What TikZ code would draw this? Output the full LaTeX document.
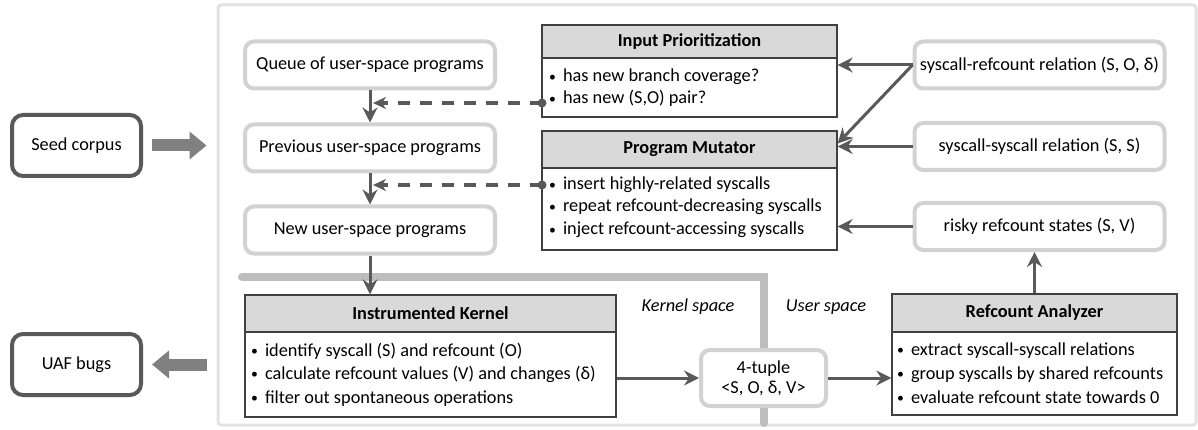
\documentclass[tikz,border=0pt]{standalone}
\usepackage{fontspec}
\setmainfont{Carlito}
\usetikzlibrary{arrows.meta}
\definecolor{darkline}{HTML}{595959}
\definecolor{softgray}{HTML}{D2D2D2}
\definecolor{framegray}{HTML}{E2E2E2}
\definecolor{headgray}{HTML}{D9D9D9}
\definecolor{sepgray}{HTML}{BDBDBD}
\definecolor{fatgray}{HTML}{808080}
\definecolor{tabline}{HTML}{404040}
\newcommand{\txtsize}{\fontsize{18.3}{22}\selectfont}
\newcommand{\itm}{\raisebox{0.5pt}{\scalebox{0.75}{\textbullet}}\hspace{7pt}}
\tikzset{
  softbox/.style={draw=softgray, line width=4pt, rounded corners=9pt, fill=white,
    minimum width=250pt, minimum height=47pt, inner sep=0pt, font=\txtsize},
  endbox/.style={draw=darkline, line width=4pt, rounded corners=11pt, fill=white,
    minimum width=129pt, minimum height=61pt, inner sep=0pt, font=\txtsize},
  tablebox/.style={draw=tabline, line width=1.3pt, fill=white, inner sep=0pt},
  tablehead/.style={draw=tabline, line width=1.3pt, fill=headgray, inner sep=0pt,
    font=\txtsize\bfseries},
  item/.style={anchor=base west, inner sep=0pt, font=\txtsize},
  arr/.style={draw=darkline, line width=3pt, -{Stealth[length=15pt,width=15pt,inset=5pt]}},
  dasharr/.style={draw=darkline, line width=3.5pt, dash pattern=on 12pt off 10pt,
    -{Stealth[length=13pt,width=12pt,inset=4pt]}},
  fat/.style={draw=fatgray, line width=12pt, -{Triangle[length=17pt,width=27pt]}},
}
\begin{document}
\begin{tikzpicture}[x=1pt,y=-1pt]
   \useasboundingbox (0,0) rectangle (1198,430);
   % frame and kernel/user separator
   \node[draw=framegray, line width=3pt, rounded corners=3pt, minimum width=978pt,
     minimum height=420pt, inner sep=0pt] (frame) at (707,215) {};
   \draw[sepgray, line width=8pt, line cap=round, line join=miter] (242,277) -- (764,277) -- (764,423);
   \node[font=\txtsize\itshape] (kspace) at (688,307) {Kernel space};
   \node[font=\txtsize\itshape] (uspace) at (826,307) {User space};

   % outside
   \node[endbox] (seed) at (76.5,145.5) {Seed corpus};
   \node[endbox] (uaf) at (76.5,364.5) {UAF bugs};

   % user-space programs
   \node[softbox] (queue) at (370,65) {Queue of user-space programs};
   \node[softbox] (prev) at (370,148) {Previous user-space programs};
   \node[softbox] (new) at (370,230) {New user-space programs};

   % feedback
   \node[softbox] (refrel) at (1039.5,65) {syscall-refcount relation (S, O, δ)};
   \node[softbox] (sysrel) at (1039.5,146.5) {syscall-syscall relation (S, S)};
   \node[softbox] (risky) at (1039.5,226.5) {risky refcount states (S, V)};
   \node[softbox, minimum width=125pt, minimum height=56pt, align=center] (tuple) at (763.5,378) {4-tuple\\[-2pt]<S, O, δ, V>};

   % input prioritization
   \node[tablebox, minimum width=295pt, minimum height=92pt] (prio) at (689.5,71) {};
   \node[tablehead, minimum width=295pt, minimum height=33pt, anchor=north] (prioh) at (prio.north) {Input Prioritization};
   \node[item] (prio1) at (549,82) {\itm has new branch coverage?};
   \node[item] (prio2) at (549,104) {\itm has new (S,O) pair?};

   % program mutator
   \node[tablebox, minimum width=295pt, minimum height=119pt] (mut) at (689.5,190.5) {};
   \node[tablehead, minimum width=295pt, minimum height=37pt, anchor=north] (muth) at (mut.north) {Program Mutator};
   \node[item] (mut1) at (549,190) {\itm insert highly-related syscalls};
   \node[item] (mut2) at (549,212) {\itm repeat refcount-decreasing syscalls};
   \node[item] (mut3) at (549,235) {\itm inject refcount-accessing syscalls};

   % instrumented kernel
   \node[tablebox, minimum width=371pt, minimum height=122pt] (kernel) at (430.5,356) {};
   \node[tablehead, minimum width=371pt, minimum height=37pt, anchor=north] (kernelh) at (kernel.north) {Instrumented Kernel};
   \node[item] (kernel1) at (251,356) {\itm identify syscall (S) and refcount (O)};
   \node[item] (kernel2) at (251,379) {\itm calculate refcount values (V) and changes (δ)};
   \node[item] (kernel3) at (251,403) {\itm filter out spontaneous operations};

   % refcount analyzer
   \node[tablebox, minimum width=285pt, minimum height=121pt] (ana) at (1034.5,354.5) {};
   \node[tablehead, minimum width=285pt, minimum height=38pt, anchor=north] (anah) at (ana.north) {Refcount Analyzer};
   \node[item] (ana1) at (897,355) {\itm extract syscall-syscall relations};
   \node[item] (ana2) at (897,379) {\itm group syscalls by shared refcounts};
   \node[item] (ana3) at (897,403) {\itm evaluate refcount state towards 0};

   % connectors
   \draw[fat] ([xshift=9pt]seed.east) -- ([xshift=-10pt]seed.east -| frame.west);
   \draw[fat] ([xshift=-10pt]uaf.east -| frame.west) -- ([xshift=9pt]uaf.east);
   \draw[arr] (queue.south) -- (prev.north);
   \draw[arr] (prev.south) -- (new.north);
   \draw[arr] (new.south) -- (new.south |- kernel.north);
   \coordinate (pin1) at (542,103);
   \coordinate (tip1) at (373,103);
   \coordinate (pin2) at (542,185);
   \coordinate (tip2) at (373,185);
   \draw[dasharr] (pin1) -- (tip1);
   \draw[dasharr] (pin2) -- (tip2);
   \fill[darkline] (pin1) circle (4.5);
   \fill[darkline] (pin2) circle (4.5);
   \draw[arr] (refrel.west) -- (refrel.west -| prio.east);
   \draw[arr] (refrel.west) -- ([yshift=6pt]muth.east);
   \draw[arr] (sysrel.west) -- (sysrel.west -| mut.east);
   \draw[arr] (risky.west) -- (risky.west -| mut.east);
   \draw[arr] (ana.north) -- (ana.north |- risky.south);
   \draw[arr] (tuple.west -| kernel.east) -- (tuple.west);
   \draw[arr] (tuple.east) -- (tuple.east -| ana.west);
 \end{tikzpicture}
\end{document}
